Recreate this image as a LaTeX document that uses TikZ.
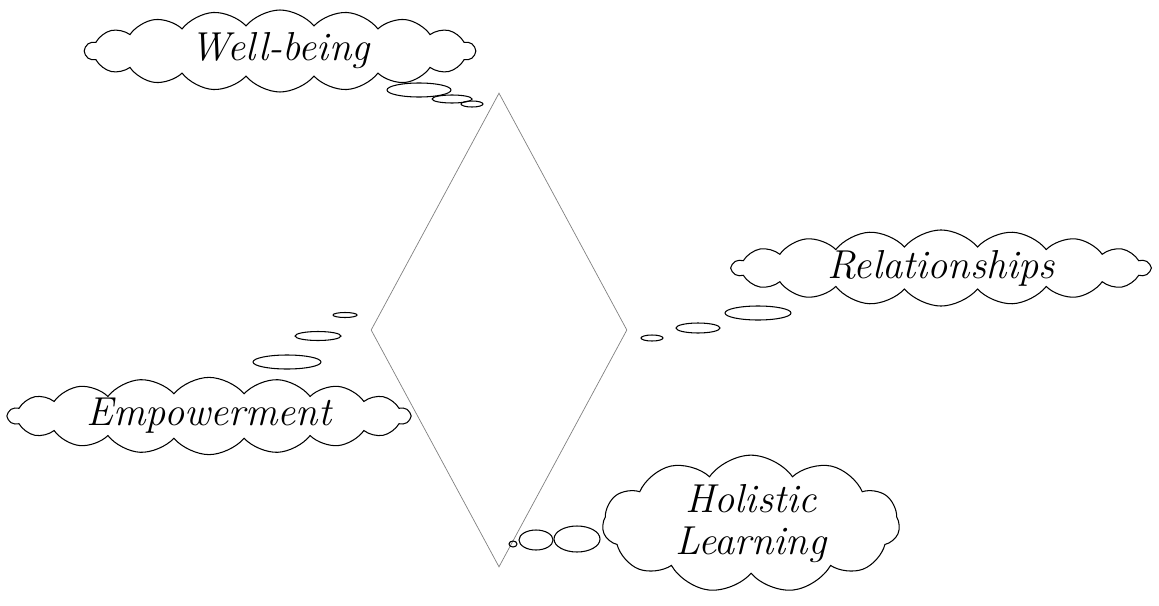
\documentclass[tikz,border=0pt]{standalone}
\usetikzlibrary{shapes.geometric,shapes.symbols}
\begin{document}
\begin{tikzpicture}[x=0.02cm, y=-0.02cm,
	thought/.style={cloud, draw, line width=0.6pt, cloud puffs=18, cloud puff arc=100,
		cloud ignores aspect, inner sep=0pt, align=center,
		font=\fontsize{23}{24}\selectfont\itshape},
	bubble/.style={draw, line width=0.6pt}]
	\useasboundingbox (0,0) rectangle (1159,605);
	\node[draw=gray, line width=0.4pt, diamond, inner sep=0pt, minimum width=5.12cm, minimum height=9.48cm] (core) at (499,330) {};
	\node[thought, minimum width=7.8cm, minimum height=1.64cm] (wellbeing) at (280,51) {Well-being};
	\node[thought, minimum width=8.36cm, minimum height=1.46cm] (relations) at (941,268) {Relationships};
	\node[thought, minimum width=8.04cm, minimum height=1.54cm] (empower) at (209,416) {Empowerment};
	\node[thought, cloud puffs=11, cloud puff arc=110, minimum width=5.94cm, minimum height=2.64cm] (holistic) at (751,524) {Holistic\\Learning};
	% thought bubbles
	\foreach \cx/\cy/\rx/\ry in {419/90/32/7, 452/99/20/4, 472/104/11/3,
		758/313/33/7, 698/328/22/5, 652/338/11/3,
		287/362/34/7, 318/336/23/4.5, 345/315/12/2.5,
		577/539/23/13, 536/540/17/10, 513/544/4/3}
		\draw[bubble] (\cx,\cy) ellipse [x radius=\rx, y radius=\ry];
\end{tikzpicture}
\end{document}
